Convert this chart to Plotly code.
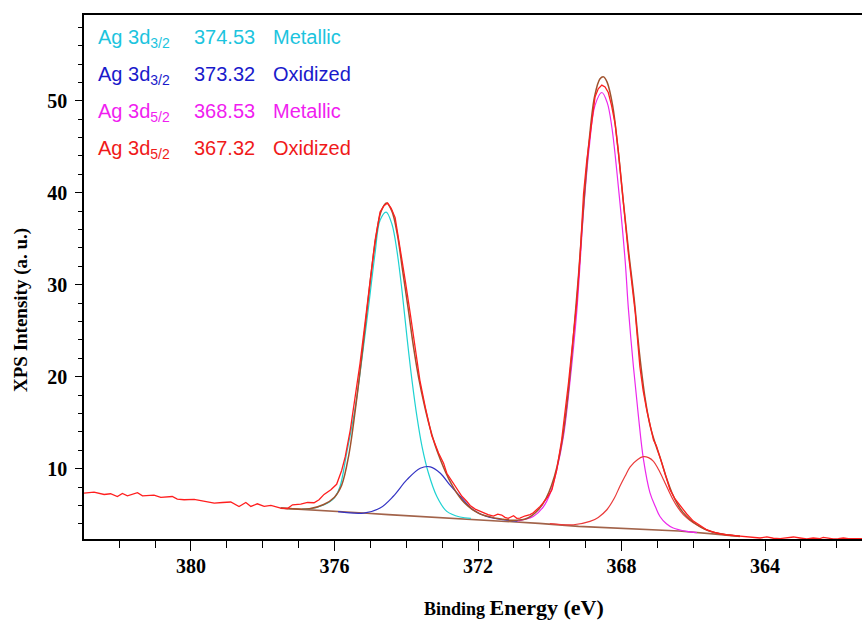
import plotly.graph_objects as go

# ---------------- data ----------------
# measured spectrum (red, noisy)
data_be = [382.98, 382.70, 382.42, 382.24, 382.05, 381.91, 381.77, 381.49, 381.35, 381.03,
           380.84, 380.52, 380.38, 380.19, 379.91, 379.63, 379.35, 379.12, 378.89, 378.66,
           378.47, 378.33, 378.15, 377.96, 377.77, 377.50, 377.31, 377.17, 376.94, 376.75,
           376.57, 376.43, 376.29, 376.10, 375.94, 375.80, 375.70, 375.56, 375.42, 375.29,
           375.15, 375.01, 374.87, 374.73, 374.62, 374.52, 374.42, 374.31, 374.17, 374.03,
           373.89, 373.75, 373.62, 373.47, 373.29, 373.10, 372.96, 372.87, 372.72, 372.59,
           372.45, 372.31, 372.22, 372.08, 371.94, 371.85, 371.72, 371.57, 371.45, 371.34,
           371.25, 371.16, 371.01, 370.92, 370.83, 370.70, 370.55, 370.46, 370.36, 370.27,
           370.18, 370.06, 369.94, 369.81, 369.67, 369.58, 369.48, 369.37, 369.25, 369.15,
           369.06, 368.97, 368.88, 368.80, 368.74, 368.65, 368.55, 368.46, 368.37, 368.28,
           368.18, 368.09, 368.00, 367.90, 367.81, 367.72, 367.62, 367.49, 367.40, 367.30,
           367.20, 367.11, 367.03, 366.93, 366.83, 366.74, 366.65, 366.51, 366.37, 366.19,
           366.00, 365.82, 365.63, 365.44, 365.25, 365.07, 364.88, 364.70, 364.51, 364.33,
           364.14, 363.95, 363.77, 363.58, 363.40, 363.21, 363.03, 362.84, 362.66, 362.47,
           362.38, 362.24, 362.10, 361.96, 361.82, 361.68, 361.54, 361.30]
data_int = [7.34, 7.45, 7.19, 7.27, 6.97, 7.30, 7.05, 7.38, 7.05, 7.12,
            6.87, 6.97, 6.69, 6.62, 6.65, 6.43, 6.26, 6.32, 6.37, 5.89,
            6.32, 5.89, 6.18, 5.89, 6.00, 5.71, 5.67, 6.07, 6.15, 6.32,
            6.29, 6.62, 7.20, 7.70, 8.30, 9.80, 11.3, 14.2, 17.8, 21.4,
            25.8, 30.5, 34.8, 37.9, 38.6, 38.9, 38.3, 37.3, 34.1, 30.5,
            26.9, 23.2, 19.6, 16.7, 13.6, 11.7, 10.6, 9.5, 8.6, 7.7,
            7.0, 6.43, 6.0, 5.6, 5.35, 5.17, 5.0, 4.85, 5.05, 4.95,
            4.7, 4.59, 4.88, 4.6, 4.63, 4.85, 5.0, 5.2, 5.53, 5.9,
            6.3, 6.9, 7.7, 9.8, 13.1, 16.0, 19.3, 23.5, 28.0, 33.5,
            39.9, 43.5, 46.4, 48.8, 50.4, 51.3, 51.7, 51.5, 50.9, 49.5,
            47.5, 44.5, 40.6, 37.0, 33.4, 30.0, 27.0, 21.1, 18.5, 16.4,
            14.6, 13.1, 12.5, 11.2, 9.9, 8.7, 7.7, 6.7, 6.0, 5.1,
            4.3, 3.8, 3.36, 3.1, 2.9, 2.8, 2.72, 2.66, 2.64, 2.55,
            2.46, 2.57, 2.43, 2.40, 2.50, 2.57, 2.46, 2.36, 2.46, 2.40,
            2.53, 2.45, 2.36, 2.40, 2.46, 2.38, 2.36, 2.40]

# fitted envelope (brown)
env_be = [377.5, 376.7, 376.3, 376.0, 375.8, 375.6, 375.4, 375.2, 375.0, 374.85,
          374.7, 374.55, 374.4, 374.25, 374.1, 373.95, 373.8, 373.65, 373.5, 373.35,
          373.2, 373.05, 372.9, 372.75, 372.6, 372.45, 372.3, 372.1, 371.9, 371.7,
          371.5, 371.3, 371.1, 370.9, 370.7, 370.5, 370.3, 370.1, 369.95, 369.8,
          369.65, 369.5, 369.35, 369.2, 369.05, 368.9, 368.75, 368.6, 368.5, 368.4,
          368.25, 368.1, 367.95, 367.8, 367.65, 367.5, 367.35, 367.2, 367.05, 366.9,
          366.75, 366.6, 366.45, 366.3, 366.1, 365.9, 365.7, 365.5, 365.3, 365.1,
          364.9, 364.7]
env_int = [5.71, 5.64, 6.1, 6.9, 8.2, 11.5, 17.0, 23.5, 30.5, 35.0,
           38.0, 38.9, 38.0, 35.5, 31.5, 27.5, 23.3, 19.8, 17.0, 14.6,
           12.6, 11.0, 9.6, 8.4, 7.4, 6.6, 6.0, 5.4, 5.0, 4.8,
           4.6, 4.5, 4.4, 4.4, 4.5, 4.9, 5.6, 6.8, 8.2, 10.2,
           13.2, 17.8, 24.0, 31.0, 39.0, 45.8, 50.5, 52.4, 52.6, 52.0,
           49.5, 44.8, 39.0, 33.5, 28.5, 22.5, 17.8, 14.6, 12.6, 10.9,
           9.0, 7.4, 6.2, 5.3, 4.5, 3.9, 3.45, 3.15, 2.95, 2.8,
           2.72, 2.66]

# background (brown)
bg_be = [377.5, 376.5, 375.7, 375.2, 374.5, 373.6, 372.5, 371.5, 370.3, 369.2,
         368.0, 367.0, 366.4, 365.3, 364.7]
bg_int = [5.71, 5.50, 5.35, 5.17, 5.00, 4.80, 4.55, 4.33, 4.05, 3.72,
          3.48, 3.33, 3.22, 2.85, 2.64]

# Ag 3d3/2 metallic (cyan)
c1_be = [376.9, 376.66, 376.29, 376.01, 375.85, 375.66, 375.42, 375.24, 375.05, 374.87,
         374.73, 374.56, 374.40, 374.26, 374.12, 373.98, 373.84, 373.70, 373.56, 373.38,
         373.15, 372.87, 372.50, 372.2]
c1_int = [5.6, 5.64, 6.07, 6.8, 8.0, 11.7, 16.7, 21.8, 27.6, 33.4,
          37.0, 37.9, 36.6, 33.7, 29.4, 24.3, 19.6, 15.6, 12.4, 9.5,
          7.0, 5.35, 4.74, 4.6]

# Ag 3d3/2 oxidized (blue)
c2_be = [375.9, 375.19, 374.73, 374.36, 373.98, 373.61, 373.33, 373.05, 372.78, 372.50,
         372.13, 371.76, 371.29, 370.9]
c2_int = [5.33, 5.17, 5.71, 7.0, 8.8, 10.05, 10.2, 9.5, 8.2, 7.0,
          5.5, 4.8, 4.45, 4.3]

# Ag 3d5/2 metallic (magenta)
c3_be = [370.9, 370.74, 370.46, 370.18, 369.99, 369.81, 369.62, 369.45, 369.25, 369.06,
         368.90, 368.74, 368.55, 368.40, 368.27, 368.07, 367.90, 367.81, 367.67, 367.53,
         367.39, 367.21, 367.05, 366.93, 366.75, 366.56, 366.19, 365.9]
c3_int = [4.3, 4.45, 4.80, 5.85, 7.3, 9.8, 13.5, 19.0, 27.0, 38.0,
          45.0, 49.5, 50.9, 49.8, 47.1, 39.9, 32.6, 27.4, 21.1, 15.7,
          11.0, 7.4, 5.8, 4.8, 4.0, 3.54, 3.18, 3.05]

# Ag 3d5/2 oxidized (red component)
c4_be = [370.0, 369.34, 368.88, 368.65, 368.41, 368.2, 368.05, 367.90, 367.76, 367.55,
         367.39, 367.25, 367.11, 366.97, 366.83, 366.70, 366.56, 366.42, 366.28, 366.10,
         365.91, 365.72, 365.53, 365.2, 364.9]
c4_int = [4.03, 3.9, 4.26, 4.7, 5.53, 6.8, 8.06, 9.2, 10.2, 11.0,
          11.3, 11.2, 10.8, 9.9, 8.8, 7.7, 6.6, 5.7, 5.0, 4.4,
          3.9, 3.5, 3.18, 2.9, 2.75]

# legend text
legend_names = ["Ag 3d<sub>3/2</sub>", "Ag 3d<sub>3/2</sub>", "Ag 3d<sub>5/2</sub>", "Ag 3d<sub>5/2</sub>"]
legend_energies = ["374.53", "373.32", "368.53", "367.32"]
legend_states = ["Metallic", "Oxidized", "Metallic", "Oxidized"]
legend_colors = ["#1CC4DE", "#1A1ACB", "#F01EF0", "#F01A1A"]

x_ticks = [380, 376, 372, 368, 364]
y_ticks = [10, 20, 30, 40, 50]

# ---------------- figure ----------------
W, H = 862, 621
ML, MR, MT, MB = 84, 0, 15, 82
PW, PH = W - ML - MR, H - MT - MB


def px(x):
    return (x - ML) / PW


def py(y):
    return (H - MB - y) / PH


fig = go.Figure()
fig.add_trace(go.Scatter(x=bg_be, y=bg_int, mode="lines",
                         line=dict(color="#A2634A", width=1.6)))
fig.add_trace(go.Scatter(x=c1_be, y=c1_int, mode="lines", line_shape="spline",
                         line=dict(color="#1ED2D2", width=1.2)))
fig.add_trace(go.Scatter(x=c2_be, y=c2_int, mode="lines", line_shape="spline",
                         line=dict(color="#3434C4", width=1.2)))
fig.add_trace(go.Scatter(x=c3_be, y=c3_int, mode="lines", line_shape="spline",
                         line=dict(color="#EC28EC", width=1.2)))
fig.add_trace(go.Scatter(x=c4_be, y=c4_int, mode="lines", line_shape="spline",
                         line=dict(color="#EA3A3A", width=1.2)))
fig.add_trace(go.Scatter(x=env_be, y=env_int, mode="lines", line_shape="spline",
                         line=dict(color="#A0522D", width=1.5)))
fig.add_trace(go.Scatter(x=data_be, y=data_int, mode="lines",
                         line=dict(color="#FF1E1E", width=1.3)))

tick_font = dict(family="Liberation Serif", size=20, color="black", weight="bold")

fig.update_xaxes(range=[382.98, 361.3], tickvals=x_ticks, ticks="outside", ticklen=10,
                 tickwidth=1.2, tickcolor="black", showline=True, linecolor="black",
                 linewidth=1.5, mirror=True, showgrid=False, zeroline=False,
                 tickfont=tick_font, ticklabelstandoff=-2,
                 minor=dict(dtick=1, tick0=380, ticks="outside", ticklen=7,
                            tickwidth=1.2, tickcolor="black", showgrid=False))
fig.update_yaxes(range=[2.35, 59.33], tickvals=y_ticks, ticks="outside", ticklen=7,
                 tickwidth=1.2, tickcolor="black", showline=True, linecolor="black",
                 linewidth=1.5, mirror=False, showgrid=False, zeroline=False,
                 tickfont=tick_font, ticklabelstandoff=4,
                 minor=dict(dtick=2, tick0=0, ticks="outside", ticklen=4,
                            tickwidth=1.2, tickcolor="black", showgrid=False))

annotations = []
# axis titles
annotations.append(dict(xref="paper", yref="paper", x=px(514), y=py(607),
                        text="Binding <span style='font-size:22px'>Energy (eV)</span>",
                        showarrow=False, xanchor="center", yanchor="middle",
                        font=dict(family="Liberation Serif", size=18, color="black", weight="bold")))
annotations.append(dict(xref="paper", yref="paper", x=px(21), y=py(310),
                        text="XPS Intensity (a. u.)", textangle=-90,
                        showarrow=False, xanchor="center", yanchor="middle",
                        font=dict(family="Liberation Serif", size=19, color="black", weight="bold")))

row_tops = [24, 61, 98, 135]
col_x = [96, 192, 271]
for i in range(4):
    for j, txt in enumerate([legend_names[i], legend_energies[i], legend_states[i]]):
        annotations.append(dict(xref="paper", yref="paper", x=px(col_x[j]), y=py(row_tops[i]),
                                text=txt, showarrow=False, xanchor="left", yanchor="top",
                                font=dict(family="Liberation Sans", size=20, color=legend_colors[i])))

fig.update_layout(width=W, height=H, margin=dict(l=ML, r=MR, t=MT, b=MB),
                  plot_bgcolor="white", paper_bgcolor="white", showlegend=False,
                  annotations=annotations)

fig.write_html("out.html", config={"displayModeBar": False},
               post_script="document.body.style.margin='0';document.body.style.overflow='hidden';")
